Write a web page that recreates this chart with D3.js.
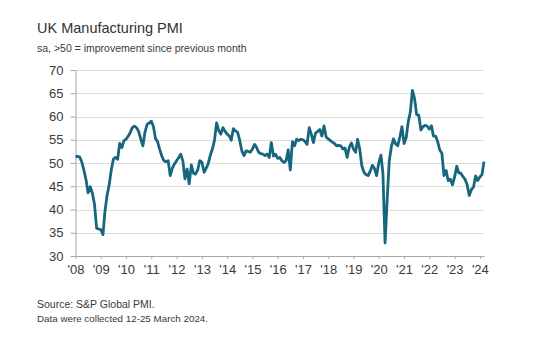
<!DOCTYPE html>
<html>
<head>
<meta charset="utf-8">
<script src="https://cdn.jsdelivr.net/npm/d3@7"></script>
<style>
  body { margin: 0; background: #fff; }
  text { font-family: "Liberation Sans", Arial, sans-serif; }
</style>
</head>
<body>
<div id="chart"></div>
<script>
// chart texts
var title = "UK Manufacturing PMI";
var subtitle = "sa, >50 = improvement since previous month";
var notes = ["Source: S&P Global PMI.", "Data were collected 12-25 March 2024."];

// axis ticks
var yTicks = [30, 35, 40, 45, 50, 55, 60, 65, 70];
var xYears = [2008, 2009, 2010, 2011, 2012, 2013, 2014, 2015, 2016, 2017, 2018, 2019, 2020, 2021, 2022, 2023, 2024];

// monthly PMI, Jan 2008 .. Mar 2024
var pmi = [
  51.4, 51.4, 51.3, 50.2, 48.5, 46.4, 43.6, 44.9, 43.5, 41.2, 36.0, 35.8, // 2008
  35.7, 34.6, 39.5, 43.0, 45.2, 48.5, 50.8, 51.2, 50.8, 54.2, 53.3, 54.8, // 2009
  55.1, 55.8, 56.5, 57.6, 57.9, 57.6, 56.8, 55.2, 53.7, 56.6, 58.3, 58.6, // 2010
  59.0, 57.8, 55.3, 54.6, 53.0, 51.5, 50.5, 50.3, 50.5, 47.3, 48.9, 49.8, // 2011
  50.5, 51.2, 51.9, 50.4, 46.6, 48.7, 45.5, 49.6, 47.8, 47.6, 48.5, 50.5, // 2012
  50.2, 48.0, 48.8, 49.8, 51.6, 53.0, 54.8, 58.6, 57.0, 56.2, 57.6, 56.8, // 2013
  56.2, 55.8, 54.9, 57.4, 56.9, 56.6, 54.9, 52.6, 51.6, 52.6, 52.5, 52.3, // 2014
  53.0, 54.0, 53.4, 52.3, 52.0, 51.9, 51.6, 51.9, 51.2, 54.4, 51.5, 51.9, // 2015
  51.0, 51.2, 50.5, 50.1, 50.5, 52.8, 48.5, 54.6, 53.7, 55.1, 54.8, 55.1, // 2016
  55.0, 54.6, 54.0, 57.6, 56.2, 54.4, 56.4, 56.8, 57.2, 55.8, 58.0, 55.6, // 2017
  55.2, 54.8, 54.5, 54.2, 53.7, 53.8, 53.7, 53.0, 53.2, 51.2, 53.4, 54.3, // 2018
  53.0, 52.3, 55.1, 53.0, 49.4, 48.0, 47.5, 47.3, 48.3, 49.5, 48.8, 47.3, // 2019
  50.0, 51.7, 47.8, 32.8, 42.0, 50.5, 53.5, 55.2, 54.1, 53.7, 55.6, 57.8, // 2020
  54.2, 55.5, 58.8, 60.9, 65.6, 63.9, 60.4, 60.3, 57.1, 57.8, 58.1, 57.9, // 2021
  57.3, 58.0, 55.8, 55.8, 54.6, 52.8, 52.1, 47.3, 48.4, 46.2, 46.5, 45.3, // 2022
  47.0, 49.3, 47.9, 47.8, 47.1, 46.5, 45.3, 43.0, 44.3, 44.8, 47.2, 46.2, // 2023
  47.0, 47.5, 50.3                                                        // 2024
];

var svg = d3.select("#chart").append("svg").attr("width", 538).attr("height", 340);

var left = 75.5, right = 484;
var x = d3.scaleTime()
    .domain([new Date(2008, 0, 1), new Date(2024, 2, 1)])
    .range([left, right]);
var y = d3.scaleLinear().domain([30, 70]).range([256, 70]);

// titles
svg.append("text").text(title).attr("x", 37).attr("y", 33)
    .style("font-size", "14.5px").attr("fill", "#333");
svg.append("text").text(subtitle).attr("x", 37).attr("y", 52)
    .style("font-size", "10.5px").attr("fill", "#3a3a3a");

// gridlines
svg.append("g").selectAll("line").data(yTicks.slice(1)).enter().append("line")
    .attr("x1", left).attr("x2", right)
    .attr("y1", function (d) { return Math.round(y(d)) + 0.5; })
    .attr("y2", function (d) { return Math.round(y(d)) + 0.5; })
    .attr("stroke", "#dcdcdc").attr("stroke-width", 1);

// y axis
var yAxis = svg.append("g").attr("transform", "translate(" + left + ",0)")
    .call(d3.axisLeft(y).tickValues(yTicks).tickSize(5).tickPadding(7).tickSizeOuter(0));
yAxis.selectAll("text").style("font-size", "13px").attr("fill", "#3a3a3a");

// x axis
var xAxis = svg.append("g").attr("transform", "translate(0," + 256 + ")")
    .call(d3.axisBottom(x)
        .tickValues(xYears.map(function (yr) { return new Date(yr, 0, 1); }))
        .tickFormat(function (d) { return "'" + d3.timeFormat("%y")(d); })
        .tickSize(3).tickPadding(6).tickSizeOuter(0));
xAxis.selectAll("text").style("font-size", "13px").attr("fill", "#3a3a3a");

svg.selectAll(".domain, .tick line").attr("stroke", "#a6a6a6");

// PMI line
var line = d3.line()
    .x(function (d, i) { return x(new Date(2008, i, 1)); })
    .y(function (d) { return y(d); });

svg.append("path").datum(pmi)
    .attr("d", line)
    .attr("fill", "none")
    .attr("stroke", "#17657e")
    .attr("stroke-width", 2.8)
    .attr("stroke-linejoin", "round");

// footnotes
svg.selectAll(".note").data(notes).enter().append("text")
    .attr("class", "note")
    .text(function (d) { return d; })
    .attr("x", 37)
    .attr("y", function (d, i) { return 308 + i * 14; })
    .style("font-size", function (d, i) { return i == 0 ? "10.5px" : "9.8px"; })
    .attr("fill", "#3a3a3a");
</script>
</body>
</html>
